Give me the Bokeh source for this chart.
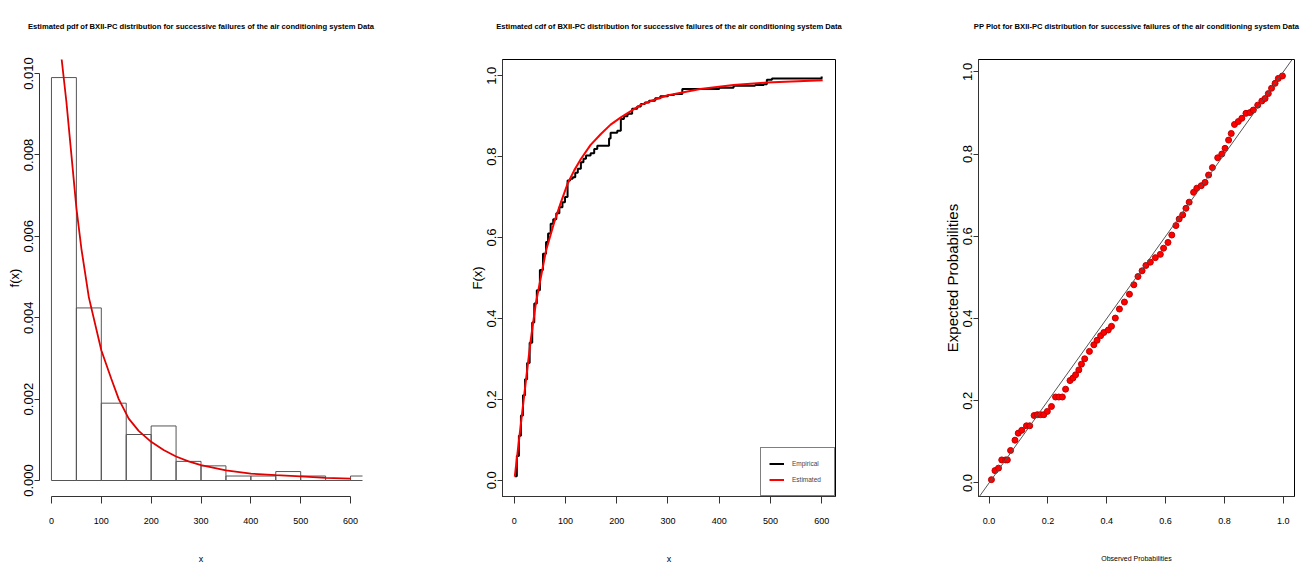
from bokeh.plotting import figure
from bokeh.layouts import row
from bokeh.models import Range1d, FixedTicker, PrintfTickFormatter, Legend, LegendItem, Slope, Title
from bokeh.embed import file_html
from bokeh.resources import INLINE

# ---------------- data ----------------
# Panel 1: histogram (density) of failure times, and fitted pdf
bin_edges = [0, 50, 100, 150, 200, 250, 300, 350, 400, 450, 500, 550, 600, 650]
bin_density = [0.0099, 0.00424, 0.0019, 0.00113, 0.00134, 0.00047, 0.00036,
               0.00011, 0.00011, 0.00022, 0.00011, 0.0, 0.00011]
pdf_x = [20, 30, 40, 50, 60, 75, 100, 120, 135, 155, 175, 200, 225, 250, 275,
         300, 350, 400, 450, 500, 550, 600]
pdf_y = [0.0104, 0.0093, 0.0080, 0.0067, 0.0057, 0.0045, 0.0032, 0.0025, 0.0020,
         0.00152, 0.00122, 0.00095, 0.00075, 0.00059, 0.00047, 0.00038, 0.00025,
         0.00017, 0.00013, 0.00010, 0.000066, 0.000045]

# Panel 2: empirical cdf (steps) and fitted cdf
ecdf_x = [1, 5, 9, 13, 17, 21, 25, 30, 35, 39, 44, 50, 56, 62, 66, 71, 76, 82, 88,
          94, 99, 104, 109, 114, 119, 124, 130, 135, 140, 149, 156, 162, 185, 188,
          201, 208, 214, 221, 230, 240, 247, 255, 263, 275, 285, 300, 312, 328,
          400, 428, 470, 487, 493, 503, 600]
ecdf_F = [0.01, 0.06, 0.11, 0.16, 0.21, 0.25, 0.29, 0.34, 0.39, 0.437, 0.47, 0.52,
          0.56, 0.589, 0.61, 0.634, 0.645, 0.66, 0.675, 0.687, 0.70, 0.741, 0.745,
          0.749, 0.76, 0.77, 0.786, 0.795, 0.803, 0.808, 0.819, 0.827, 0.845, 0.859,
          0.864, 0.893, 0.90, 0.906, 0.918, 0.924, 0.93, 0.934, 0.938, 0.944, 0.949,
          0.952, 0.955, 0.967, 0.970, 0.975, 0.977, 0.979, 0.99, 0.993, 0.998]
cdf_x = [1, 13, 23, 32, 42, 62, 78, 91, 104, 117, 130, 149, 169, 188, 208, 247,
         272, 298, 363, 428, 493, 602]
cdf_F = [0.009, 0.141, 0.25, 0.345, 0.437, 0.568, 0.638, 0.687, 0.733, 0.766,
         0.794, 0.829, 0.856, 0.879, 0.897, 0.928, 0.94, 0.951, 0.967, 0.977,
         0.983, 0.989]

# Panel 3: PP plot
pp_obs = [0.008, 0.020, 0.032, 0.043, 0.056, 0.062, 0.073, 0.088, 0.099, 0.111,
          0.127, 0.138, 0.153, 0.164, 0.175, 0.186, 0.198, 0.212, 0.226, 0.237,
          0.249, 0.260, 0.275, 0.285, 0.294, 0.305, 0.314, 0.325, 0.341, 0.356,
          0.367, 0.379, 0.390, 0.405, 0.416, 0.429, 0.443, 0.460, 0.477, 0.492,
          0.506, 0.520, 0.533, 0.548, 0.565, 0.582, 0.593, 0.608, 0.621, 0.635,
          0.646, 0.658, 0.669, 0.680, 0.695, 0.706, 0.721, 0.734, 0.746, 0.759,
          0.777, 0.791, 0.802, 0.814, 0.823, 0.834, 0.847, 0.859, 0.873, 0.887,
          0.898, 0.913, 0.927, 0.938, 0.949, 0.960, 0.972, 0.983, 0.997]
pp_exp = [0.008, 0.030, 0.036, 0.056, 0.056, 0.056, 0.079, 0.104, 0.121, 0.128,
          0.139, 0.139, 0.164, 0.166, 0.166, 0.166, 0.174, 0.186, 0.209, 0.209,
          0.209, 0.228, 0.249, 0.255, 0.263, 0.275, 0.289, 0.302, 0.320, 0.336,
          0.347, 0.358, 0.366, 0.372, 0.381, 0.401, 0.423, 0.440, 0.459, 0.482,
          0.502, 0.516, 0.529, 0.537, 0.548, 0.556, 0.571, 0.585, 0.603, 0.626,
          0.642, 0.652, 0.668, 0.683, 0.707, 0.717, 0.723, 0.731, 0.749, 0.767,
          0.791, 0.800, 0.814, 0.834, 0.850, 0.872, 0.879, 0.887, 0.899, 0.901,
          0.907, 0.919, 0.929, 0.935, 0.947, 0.960, 0.972, 0.984, 0.990]

x_ticks_600 = [0, 100, 200, 300, 400, 500, 600]
pdf_ticks = [0.0, 0.002, 0.004, 0.006, 0.008, 0.010]
prob_ticks = [0.0, 0.2, 0.4, 0.6, 0.8, 1.0]

titles = [
    "Estimated pdf of BXII-PC distribution for successive failures of the air conditioning system Data",
    "Estimated cdf of BXII-PC distribution for successive failures of the air conditioning system Data",
    "PP Plot for BXII-PC distribution for successive failures of the air conditioning system Data",
]

FONT = "Liberation Sans"
H = 567
TOP = 59
BOTTOM = 71


def base_fig(width, xr, yr, left, right, title):
    p = figure(width=width, height=H, x_range=Range1d(*xr), y_range=Range1d(*yr),
               output_backend="svg", toolbar_location=None, title=title,
               min_border_left=left, min_border_right=right,
               min_border_top=TOP, min_border_bottom=BOTTOM)
    # empty spacer panel between the frame and the title
    p.add_layout(Title(text=" ", text_font_size="2px", standoff=21), "above")
    p.grid.visible = False
    p.background_fill_color = "white"
    p.border_fill_color = "white"
    p.outline_line_color = "black"
    p.title.align = "center"
    p.title.standoff = 7
    p.title.text_font = FONT
    p.title.text_font_style = "bold"
    p.title.text_font_size = "7.6px"
    p.title.text_color = "black"
    for ax in p.axis:
        ax.minor_tick_line_color = None
        ax.axis_line_color = "#333333"
        ax.major_tick_line_color = "#333333"
        ax.major_label_text_color = "black"
        ax.axis_label_text_color = "black"
        ax.axis_label_text_font_style = "normal"
    xa = p.xaxis[0]
    xa.major_tick_out = 7
    xa.major_tick_in = 0
    xa.major_label_standoff = 14
    xa.major_label_text_font = FONT
    xa.major_label_text_font_size = "9px"
    xa.axis_label_text_font = FONT
    xa.axis_label_text_font_size = "9px"
    xa.axis_label_standoff = 27
    ya = p.yaxis[0]
    ya.major_tick_out = 5
    ya.major_tick_in = 0
    ya.major_label_standoff = 1
    ya.major_label_orientation = "vertical"
    ya.major_label_text_font = FONT
    ya.major_label_text_font_size = "13px"
    ya.axis_label_text_font = FONT
    ya.axis_label_text_font_size = "13px"
    ya.axis_label_standoff = 0
    return p


# ---------------- panel 1 ----------------
p1 = base_fig(440, (-24, 624), (-0.000393, 0.010344), 39, 78, titles[0])
p1.outline_line_color = None
p1.quad(left=bin_edges[:-1], right=bin_edges[1:], bottom=0, top=bin_density,
        fill_color=None, line_color="#555555", line_width=1)
p1.line(pdf_x, pdf_y, line_color="#e00000", line_width=1.8)
p1.xaxis.ticker = FixedTicker(ticks=x_ticks_600)
p1.xaxis.bounds = (0, 600)
p1.yaxis.ticker = FixedTicker(ticks=pdf_ticks)
p1.yaxis.formatter = PrintfTickFormatter(format="%.3f")
p1.yaxis.bounds = (0, 0.010)
p1.xaxis.axis_label = "x"
p1.yaxis.axis_label = "f(x)"

# ---------------- panel 2 ----------------
p2 = base_fig(440, (-23, 627), (-0.04, 1.04), 62, 45, titles[1])
r_emp = p2.step(ecdf_x, ecdf_F, mode="after", line_color="black", line_width=2)
r_est = p2.line(cdf_x, cdf_F, line_color="red", line_width=2)
p2.xaxis.ticker = FixedTicker(ticks=x_ticks_600)
p2.yaxis.ticker = FixedTicker(ticks=prob_ticks)
p2.yaxis.formatter = PrintfTickFormatter(format="%.1f")
p2.xaxis.axis_label = "x"
p2.yaxis.axis_label = "F(x)"
legend = Legend(items=[LegendItem(label="Empirical", renderers=[r_emp]),
                       LegendItem(label="Estimated", renderers=[r_est])],
                location="bottom_right", margin=0, padding=8, spacing=1,
                glyph_width=15, glyph_height=15, label_height=15, label_width=34,
                label_standoff=8, border_line_color="black", border_line_width=1,
                label_text_font=FONT, label_text_font_size="6.5px",
                background_fill_color="white", background_fill_alpha=1.0)
p2.add_layout(legend)

# ---------------- panel 3 ----------------
p3 = base_fig(429, (-0.036, 1.038), (-0.033, 1.030), 98, 15, titles[2])
p3.scatter(pp_obs, pp_exp, size=6, fill_color="red", line_color="#c00000")
p3.add_layout(Slope(gradient=1, y_intercept=0, line_color="#555555", line_width=1))
p3.xaxis.ticker = FixedTicker(ticks=prob_ticks)
p3.xaxis.formatter = PrintfTickFormatter(format="%.1f")
p3.yaxis.ticker = FixedTicker(ticks=prob_ticks)
p3.yaxis.formatter = PrintfTickFormatter(format="%.1f")
p3.xaxis.axis_label = "Observed Probabilities"
p3.xaxis.axis_label_text_font_size = "7px"
p3.xaxis.axis_label_standoff = 28
p3.yaxis.axis_label = "Expected Probabilities"
p3.yaxis.axis_label_text_font_size = "15px"

layout = row(p1, p2, p3)
open("out.html", "w").write(file_html(layout, INLINE))
